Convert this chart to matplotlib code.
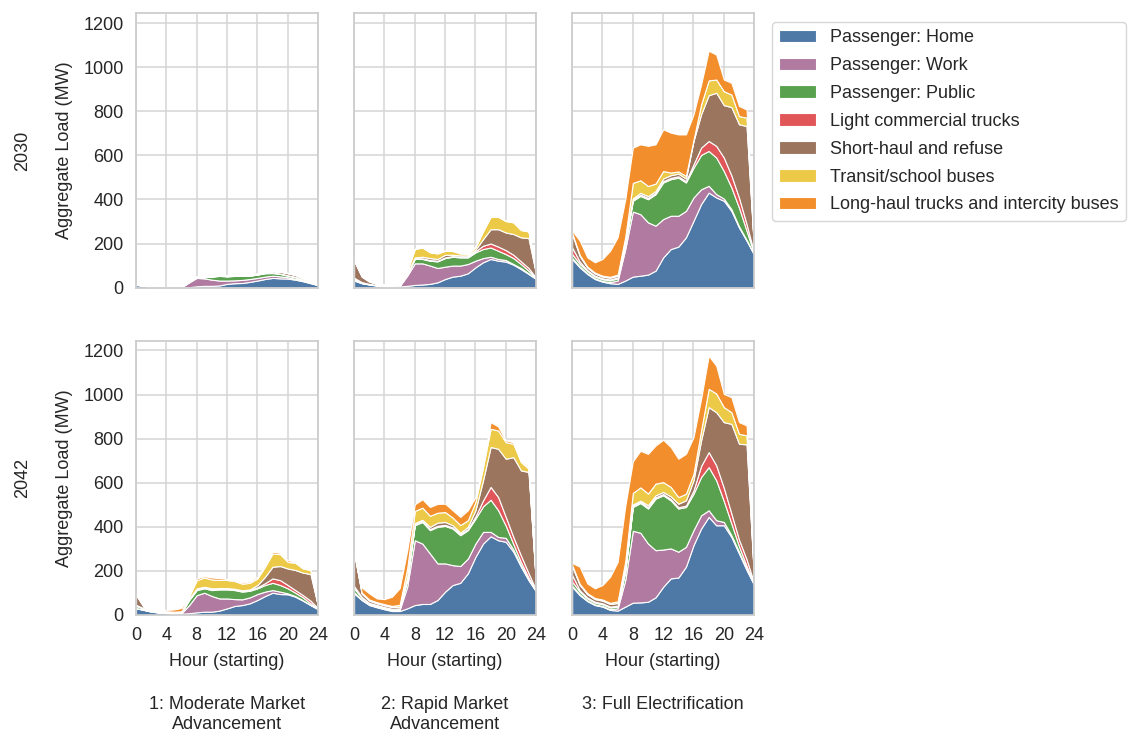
import numpy as np
import seaborn as sns
from matplotlib import pyplot as plt

# Hour of day (starting)
hours = list(range(25))

categories = ["Passenger: Home", "Passenger: Work", "Passenger: Public",
              "Light commercial trucks", "Short-haul and refuse",
              "Transit/school buses", "Long-haul trucks and intercity buses"]
colors = ["#4e79a7", "#b07aa1", "#59a14f", "#e15759", "#9c755f", "#edc948", "#f28e2b"]

years = ["2030", "2042"]
scenarios = ["1: Moderate Market\nAdvancement", "2: Rapid Market\nAdvancement",
             "3: Full Electrification"]

# Load by segment (MW), 2030, scenario 1
mod30_home = [12, 8, 3, 1, 1, 1, 1, 2, 6, 8, 8, 10, 17, 20, 21, 26, 32, 39, 44, 42, 41, 36, 29, 20, 11]
mod30_work = [1, 1, 0, 0, 0, 0, 1, 22, 38, 34, 28, 22, 15, 13, 14, 13, 12, 11, 10, 9, 6, 4, 3, 2, 1]
mod30_public = [1, 1, 0, 0, 0, 0, 1, 2, 3, 5, 14, 21, 19, 20, 18, 15, 15, 15, 12, 11, 7, 7, 3, 2, 1]
mod30_light = [1, 0, 0, 0, 0, 0, 0, 1, 1, 1, 1, 1, 1, 1, 1, 1, 1, 2, 2, 2, 2, 2, 1, 1, 0]
mod30_short = [3, 1, 0, 0, 0, 0, 0, 0, 1, 1, 1, 1, 1, 1, 1, 1, 2, 3, 6, 8, 9, 8, 6, 4, 1]
mod30_transit = [1, 0, 0, 0, 0, 0, 0, 1, 1, 1, 1, 1, 1, 1, 1, 1, 1, 1, 1, 1, 1, 1, 1, 1, 0]
mod30_long = [1, 0, 0, 0, 0, 0, 0, 0, 1, 1, 1, 1, 1, 1, 1, 1, 1, 1, 1, 1, 1, 1, 1, 1, 0]

# 2030, scenario 2
rap30_home = [32, 20, 14, 9, 5, 5, 5, 8, 12, 14, 17, 24, 39, 50, 54, 65, 92, 115, 130, 122, 118, 104, 84, 62, 39]
rap30_work = [2, 1, 1, 1, 1, 1, 2, 46, 98, 96, 83, 65, 56, 50, 46, 42, 30, 19, 10, 8, 7, 3, 5, 3, 1]
rap30_public = [5, 2, 1, 1, 1, 1, 1, 5, 20, 20, 22, 30, 39, 40, 37, 30, 38, 41, 42, 37, 27, 27, 18, 12, 2]
rap30_light = [6, 2, 1, 1, 1, 1, 1, 2, 3, 3, 3, 3, 3, 3, 3, 3, 5, 15, 18, 19, 18, 15, 12, 12, 3]
rap30_short = [77, 25, 10, 5, 3, 3, 3, 5, 4, 7, 9, 8, 12, 6, 6, 6, 7, 30, 65, 79, 80, 94, 109, 136, 15]
rap30_transit = [3, 2, 1, 1, 1, 1, 2, 10, 38, 42, 26, 25, 18, 17, 9, 6, 12, 36, 56, 56, 52, 53, 33, 30, 3]
rap30_long = [3, 3, 2, 2, 2, 2, 2, 2, 2, 2, 2, 2, 2, 2, 2, 2, 2, 2, 2, 2, 2, 2, 2, 2, 1]

# 2030, scenario 3
full30_home = [130, 92, 62, 39, 27, 20, 17, 32, 50, 54, 59, 77, 137, 175, 186, 228, 303, 379, 431, 409, 394, 348, 273, 213, 149]
full30_work = [5, 4, 3, 3, 3, 5, 15, 143, 295, 279, 237, 204, 174, 151, 140, 120, 106, 67, 31, 15, 10, 8, 5, 4, 2]
full30_public = [17, 12, 10, 8, 8, 8, 10, 23, 49, 83, 105, 143, 166, 166, 173, 129, 135, 156, 158, 166, 125, 98, 85, 41, 3]
full30_light = [30, 10, 4, 4, 4, 4, 4, 5, 6, 6, 6, 6, 6, 6, 6, 6, 15, 33, 45, 53, 61, 55, 45, 30, 3]
full30_short = [61, 25, 12, 10, 8, 8, 8, 17, 5, 8, 8, 8, 12, 12, 12, 12, 106, 151, 208, 241, 238, 310, 333, 445, 5]
full30_transit = [5, 5, 4, 4, 4, 4, 5, 10, 70, 57, 46, 34, 34, 12, 10, 12, 5, 45, 67, 60, 63, 57, 37, 38, 2]
full30_long = [10, 65, 42, 47, 76, 118, 170, 170, 160, 163, 182, 178, 189, 181, 168, 188, 116, 90, 135, 113, 53, 53, 46, 37, 2]

# 2042, scenario 1
mod42_home = [30, 23, 15, 11, 8, 6, 6, 8, 12, 15, 15, 20, 30, 41, 45, 53, 68, 86, 101, 95, 94, 83, 65, 45, 26]
mod42_work = [2, 1, 1, 1, 1, 1, 2, 37, 78, 86, 71, 55, 45, 31, 26, 27, 27, 20, 12, 11, 4, 3, 2, 1, 1]
mod42_public = [9, 5, 3, 3, 3, 3, 3, 23, 23, 20, 27, 41, 41, 41, 35, 30, 26, 30, 33, 30, 23, 15, 13, 7, 2]
mod42_light = [5, 2, 1, 1, 1, 1, 1, 2, 3, 3, 3, 3, 3, 3, 3, 3, 5, 8, 20, 22, 15, 12, 10, 12, 2]
mod42_short = [45, 6, 3, 2, 2, 2, 2, 5, 5, 4, 5, 3, 3, 3, 3, 3, 10, 29, 53, 64, 75, 91, 102, 121, 8]
mod42_transit = [3, 2, 2, 2, 2, 2, 3, 10, 37, 42, 40, 37, 37, 35, 30, 30, 30, 46, 60, 54, 30, 33, 19, 18, 1]
mod42_long = [3, 3, 4, 3, 6, 10, 15, 3, 8, 6, 9, 8, 5, 4, 6, 6, 7, 7, 8, 6, 8, 4, 4, 3, 1]

# 2042, scenario 2
rap42_home = [98, 68, 45, 35, 26, 18, 18, 30, 45, 50, 50, 68, 106, 136, 146, 189, 264, 324, 357, 339, 332, 287, 219, 158, 106]
rap42_work = [5, 3, 3, 3, 3, 3, 5, 98, 294, 274, 229, 166, 128, 90, 76, 67, 60, 53, 20, 15, 18, 10, 6, 4, 2]
rap42_public = [18, 8, 5, 5, 5, 5, 5, 30, 68, 98, 106, 166, 170, 166, 140, 129, 113, 116, 146, 121, 55, 25, 15, 8, 2]
rap42_light = [10, 3, 2, 2, 2, 2, 2, 4, 5, 5, 5, 5, 5, 5, 5, 5, 10, 27, 58, 60, 40, 32, 30, 20, 3]
rap42_short = [150, 15, 10, 8, 8, 8, 8, 10, 5, 5, 10, 14, 13, 10, 6, 10, 28, 91, 181, 219, 264, 362, 386, 459, 20]
rap42_transit = [5, 5, 5, 5, 5, 5, 8, 40, 55, 55, 50, 45, 45, 35, 35, 30, 38, 60, 83, 83, 75, 61, 38, 15, 2]
rap42_long = [10, 23, 28, 17, 23, 42, 75, 80, 30, 38, 40, 40, 38, 33, 37, 45, 22, 15, 30, 18, 8, 7, 7, 7, 2]

# 2042, scenario 3
full42_home = [128, 90, 63, 45, 38, 23, 20, 38, 56, 57, 60, 80, 128, 166, 170, 219, 317, 392, 445, 407, 407, 354, 279, 204, 136]
full42_work = [5, 4, 3, 3, 3, 3, 10, 120, 326, 316, 264, 214, 169, 136, 117, 90, 68, 60, 30, 23, 15, 8, 8, 7, 2]
full42_public = [18, 12, 9, 8, 8, 8, 8, 40, 108, 135, 159, 234, 246, 218, 196, 181, 165, 174, 196, 181, 95, 53, 25, 12, 3]
full42_light = [30, 6, 4, 4, 4, 4, 4, 5, 6, 6, 6, 6, 6, 6, 6, 6, 15, 50, 68, 68, 60, 45, 30, 30, 3]
full42_short = [40, 24, 15, 12, 12, 12, 12, 10, 5, 5, 9, 9, 9, 12, 16, 24, 46, 116, 204, 241, 298, 407, 435, 521, 10]
full42_transit = [5, 5, 5, 5, 5, 5, 8, 30, 53, 60, 53, 53, 45, 43, 30, 30, 30, 45, 83, 85, 68, 53, 45, 41, 2]
full42_long = [10, 78, 44, 44, 66, 118, 179, 250, 143, 166, 180, 173, 192, 181, 174, 181, 166, 143, 150, 126, 60, 68, 53, 45, 2]

panels = [
    [[mod30_home, mod30_work, mod30_public, mod30_light, mod30_short, mod30_transit, mod30_long],
     [rap30_home, rap30_work, rap30_public, rap30_light, rap30_short, rap30_transit, rap30_long],
     [full30_home, full30_work, full30_public, full30_light, full30_short, full30_transit, full30_long]],
    [[mod42_home, mod42_work, mod42_public, mod42_light, mod42_short, mod42_transit, mod42_long],
     [rap42_home, rap42_work, rap42_public, rap42_light, rap42_short, rap42_transit, rap42_long],
     [full42_home, full42_work, full42_public, full42_light, full42_short, full42_transit, full42_long]],
]

sns.set_theme(style="whitegrid")
plt.rcParams['font.family'] = ['Liberation Sans', 'DejaVu Sans']
plt.rcParams['font.size'] = 13

fig, axes = plt.subplots(2, 3, figsize=(11.29, 7.33), dpi=100, sharex=True, sharey=True)
fig.subplots_adjust(left=0.1205, right=0.668, bottom=0.161, top=0.982,
                    wspace=0.198, hspace=0.193)

for i in range(2):
    for j in range(3):
        ax = axes[i, j]
        ax.stackplot(hours, *panels[i][j], colors=colors, labels=categories,
                     edgecolor="white", linewidth=0.8)
        ax.set_xlim(0, 24)
        ax.set_ylim(0, 1245)
        ax.set_xticks(np.arange(0, 25, 4))
        ax.set_yticks(np.arange(0, 1201, 200))
        ax.tick_params(labelsize=13, pad=3)
        ax.grid(True, color="#d5d5d5", linewidth=1.1)
        for s in ax.spines.values():
            s.set_color("#cccccc")
        if j == 0:
            ax.set_ylabel("Aggregate Load (MW)", fontsize=13, labelpad=7)
        if i == 1:
            ax.set_xlabel("Hour (starting)", fontsize=13, labelpad=6)

# Row labels (year) and column labels (scenario)
for i, yr in enumerate(years):
    pos = axes[i, 0].get_position()
    fig.text(0.02, (pos.y0 + pos.y1) / 2, yr, rotation=90, ha="center", va="center",
             fontsize=13, color="#262626")
for j, sc in enumerate(scenarios):
    pos = axes[1, j].get_position()
    fig.text((pos.x0 + pos.x1) / 2, 0.05, sc, ha="center", va="top",
             fontsize=13, color="#262626", linespacing=1.2)

handles, labels = axes[0, 0].get_legend_handles_labels()
fig.legend(handles, labels, loc="upper left", bbox_to_anchor=(0.676, 0.982),
           fontsize=13, frameon=True, labelspacing=0.6)

fig.savefig("out.png", dpi=100)
